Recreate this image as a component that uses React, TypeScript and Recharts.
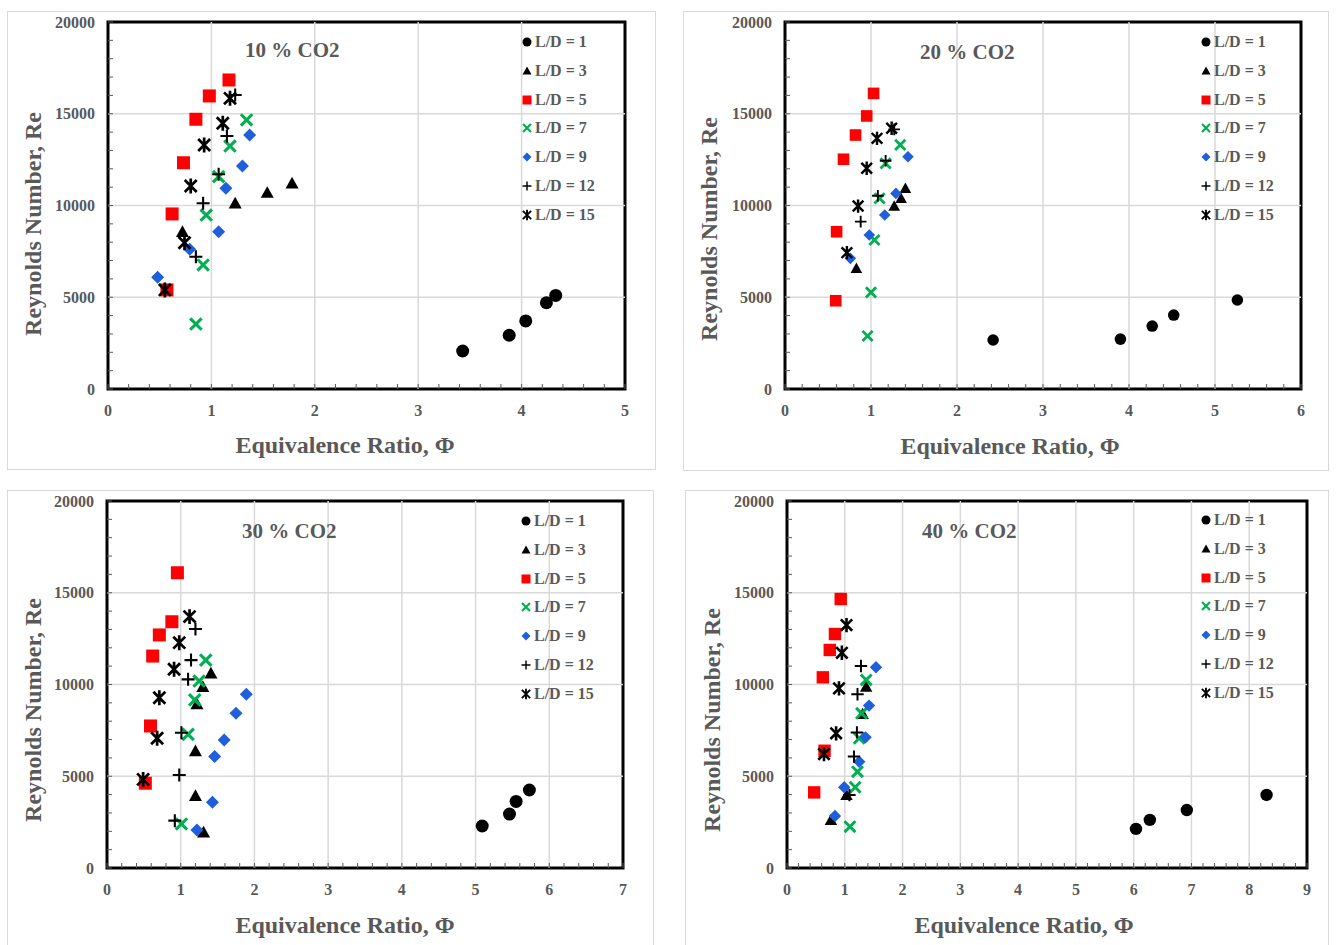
import React from 'react'
import { ScatterChart, Scatter, XAxis, YAxis, ReferenceLine, ReferenceArea } from 'recharts'

const FONT = '"Liberation Serif", "Times New Roman", serif'
const GREY = '#595959'
const GRID = '#d9d9d9'

type Pt = [number, number]

// Equivalence ratio vs Reynolds number, one list per L/D
const co2_10_ld1: Pt[] = [[3.43, 2070], [3.88, 2930], [4.04, 3710], [4.24, 4700], [4.33, 5100]]
const co2_10_ld3: Pt[] = [[0.72, 8570], [1.23, 10120], [1.54, 10700], [1.78, 11210]]
const co2_10_ld5: Pt[] = [[0.57, 5400], [0.62, 9540], [0.73, 12330], [0.85, 14700], [0.98, 15970], [1.17, 16840]]
const co2_10_ld7: Pt[] = [[0.85, 3540], [0.92, 6760], [0.95, 9480], [1.07, 11570], [1.18, 13240], [1.34, 14660]]
const co2_10_ld9: Pt[] = [[0.48, 6090], [0.79, 7610], [1.07, 8570], [1.14, 10940], [1.3, 12150], [1.37, 13840]]
const co2_10_ld12: Pt[] = [[0.85, 7210], [0.92, 10120], [1.07, 11700], [1.15, 13790], [1.23, 16020]]
const co2_10_ld15: Pt[] = [[0.55, 5400], [0.74, 7970], [0.8, 11060], [0.93, 13300], [1.11, 14480], [1.18, 15840]]

const co2_20_ld1: Pt[] = [[2.42, 2670], [3.9, 2720], [4.27, 3430], [4.52, 4030], [5.26, 4850]]
const co2_20_ld3: Pt[] = [[0.83, 6580], [1.27, 9970], [1.35, 10390], [1.4, 10940]]
const co2_20_ld5: Pt[] = [[0.59, 4810], [0.6, 8570], [0.68, 12520], [0.82, 13840], [0.95, 14880], [1.03, 16110]]
const co2_20_ld7: Pt[] = [[0.96, 2890], [1.0, 5270], [1.04, 8120], [1.1, 10390], [1.17, 12300], [1.34, 13300]]
const co2_20_ld9: Pt[] = [[0.76, 7120], [0.98, 8390], [1.16, 9480], [1.29, 10660], [1.43, 12660]]
const co2_20_ld12: Pt[] = [[0.88, 9120], [1.08, 10530], [1.17, 12440], [1.27, 14150]]
const co2_20_ld15: Pt[] = [[0.72, 7430], [0.85, 9970], [0.95, 12030], [1.07, 13660], [1.24, 14210]]

const co2_30_ld1: Pt[] = [[5.09, 2290], [5.46, 2940], [5.55, 3630], [5.73, 4250]]
const co2_30_ld3: Pt[] = [[1.31, 1950], [1.2, 3940], [1.2, 6380], [1.22, 8940], [1.3, 9880], [1.41, 10610]]
const co2_30_ld5: Pt[] = [[0.52, 4620], [0.59, 7740], [0.62, 11550], [0.71, 12700], [0.88, 13420], [0.955, 16090]]
const co2_30_ld7: Pt[] = [[1.01, 2400], [1.1, 7280], [1.19, 9160], [1.25, 10190], [1.34, 11330]]
const co2_30_ld9: Pt[] = [[1.22, 2070], [1.43, 3580], [1.46, 6070], [1.59, 6980], [1.75, 8430], [1.89, 9470]]
const co2_30_ld12: Pt[] = [[0.92, 2580], [0.98, 5070], [1.01, 7370], [1.1, 10280], [1.14, 11330], [1.2, 13020]]
const co2_30_ld15: Pt[] = [[0.49, 4830], [0.68, 7070], [0.71, 9280], [0.91, 10830], [0.98, 12280], [1.12, 13700]]

const co2_40_ld1: Pt[] = [[6.04, 2130], [6.28, 2620], [6.92, 3160], [8.3, 3980]]
const co2_40_ld3: Pt[] = [[0.76, 2620], [1.03, 3980], [1.31, 8390], [1.37, 9880]]
const co2_40_ld5: Pt[] = [[0.47, 4120], [0.65, 6390], [0.62, 10390], [0.74, 11880], [0.83, 12750], [0.93, 14660]]
const co2_40_ld7: Pt[] = [[1.09, 2250], [1.18, 4400], [1.22, 5250], [1.25, 7070], [1.29, 8430], [1.37, 10250]]
const co2_40_ld9: Pt[] = [[0.83, 2830], [0.99, 4400], [1.25, 5790], [1.36, 7120], [1.42, 8850], [1.54, 10940]]
const co2_40_ld12: Pt[] = [[1.08, 3980], [1.16, 6070], [1.21, 7390], [1.22, 9470], [1.28, 11010]]
const co2_40_ld15: Pt[] = [[0.64, 6210], [0.85, 7340], [0.9, 9790], [0.95, 11730], [1.03, 13240]]

const LD_LABELS = ['L/D = 1', 'L/D = 3', 'L/D = 5', 'L/D = 7', 'L/D = 9', 'L/D = 12', 'L/D = 15']
const MARKERS = ['circle', 'triangle', 'square', 'xmark', 'diamond', 'plus', 'star']
const COLORS = ['#000000', '#000000', '#ff0000', '#00b050', '#1f5fdc', '#000000', '#000000']

const Y_MAX = 20000
const Y_MAJOR = [5000, 10000, 15000]

// minor tick positions along an axis
const steps = (max: number, step: number) =>
  Array.from({ length: Math.round(max / step) + 1 }, (_, i) => +(i * step).toFixed(3))

function Marker({ kind, cx, cy, r, color }: { kind: string; cx: number; cy: number; r: number; color: string }) {
  switch (kind) {
    case 'circle':
      return <circle cx={cx} cy={cy} r={r} fill={color} />
    case 'triangle':
      return <polygon points={`${cx},${cy - r} ${cx + r},${cy + r * 0.8} ${cx - r},${cy + r * 0.8}`} fill={color} />
    case 'square':
      return <rect x={cx - r} y={cy - r} width={2 * r} height={2 * r} fill={color} />
    case 'xmark': {
      const a = r * 0.88
      return <path d={`M${cx - a},${cy - a}L${cx + a},${cy + a}M${cx - a},${cy + a}L${cx + a},${cy - a}`}
        stroke={color} strokeWidth={r * 0.48} fill="none" />
    }
    case 'diamond':
      return <polygon points={`${cx},${cy - r} ${cx + r},${cy} ${cx},${cy + r} ${cx - r},${cy}`} fill={color} />
    case 'plus':
      return <path d={`M${cx - r},${cy}H${cx + r}M${cx},${cy - r}V${cy + r}`} stroke={color} strokeWidth={r * 0.32} fill="none" />
    default: {
      const a = r * 0.92
      return <path d={`M${cx - a},${cy - a}L${cx + a},${cy + a}M${cx - a},${cy + a}L${cx + a},${cy - a}M${cx},${cy - r * 1.15}V${cy + r * 1.15}`}
        stroke={color} strokeWidth={r * 0.42} fill="none" />
    }
  }
}

const XTick = (p: any) => {
  const v = p.payload.value
  const major = Math.abs(v - Math.round(v)) < 1e-6
  return (
    <g>
      <line x1={p.x} x2={p.x} y1={p.y} y2={p.y - 5} stroke={GREY} />
      {major && (
        <text x={p.x} y={p.y + 27} textAnchor="middle" fill={GREY} fontFamily={FONT} fontWeight="bold" fontSize={16}>
          {Math.round(v)}
        </text>
      )}
    </g>
  )
}

const YTick = (p: any) => {
  const v = p.payload.value
  return (
    <g>
      <line x1={p.x} x2={p.x + 5} y1={p.y} y2={p.y} stroke={GREY} />
      {v % 5000 === 0 && (
        <text x={p.x - 13} y={p.y + 5.5} textAnchor="end" fill={GREY} fontFamily={FONT} fontWeight="bold" fontSize={16}>
          {v}
        </text>
      )}
    </g>
  )
}

interface PanelProps {
  left: number; top: number; w: number; h: number
  yW: number; right: number; xH: number; xMax: number
  r: number
  series: Pt[][]
  title: string; titleX: number; titleY: number
  legendX: number; legendY: number
  xTitle: [number, number]; yTitle: [number, number]
}

function Panel(p: PanelProps) {
  const textStyle = { fontFamily: FONT, fontWeight: 'bold' as const, color: GREY, position: 'absolute' as const, whiteSpace: 'nowrap' as const }
  const gridX = steps(p.xMax, 1).slice(1, -1)
  return (
    <>
      <div style={{ position: 'absolute', left: p.left, top: p.top, width: p.w, height: p.h, outline: `1px solid ${GRID}` }}>
        <ScatterChart width={p.w} height={p.h} margin={{ top: 10, right: p.right, bottom: 0, left: 0 }}>
          <XAxis type="number" dataKey="x" domain={[0, p.xMax]} ticks={steps(p.xMax, 0.2)} interval={0}
            tick={XTick} tickLine={false} axisLine={false} tickSize={0} tickMargin={0} height={p.xH} allowDataOverflow
            label={() => (
              <text x={p.xTitle[0]} y={p.xTitle[1]} textAnchor="middle" fill={GREY} fontFamily={FONT} fontWeight="bold" fontSize={24}>
                Equivalence Ratio, Φ
              </text>
            )} />
          <YAxis type="number" dataKey="y" domain={[0, Y_MAX]} ticks={steps(Y_MAX, 1000)} interval={0}
            tick={YTick} tickLine={false} axisLine={false} tickSize={0} tickMargin={0} width={p.yW} allowDataOverflow
            label={() => (
              <text x={p.yTitle[0]} y={p.yTitle[1]} transform={`rotate(-90 ${p.yTitle[0]} ${p.yTitle[1]})`}
                textAnchor="middle" dominantBaseline="central" fill={GREY} fontFamily={FONT} fontWeight="bold" fontSize={24}>
                Reynolds Number, Re
              </text>
            )} />
          {gridX.map(v => <ReferenceLine key={'gx' + v} x={v} stroke={GRID} strokeWidth={1.5} />)}
          {Y_MAJOR.map(v => <ReferenceLine key={'gy' + v} y={v} stroke={GRID} strokeWidth={1.5} />)}
          <ReferenceArea x1={0} x2={p.xMax} y1={0} y2={Y_MAX} fill="none" stroke="#000" strokeWidth={3} />
          {p.series.map((s, i) => (
            <Scatter key={LD_LABELS[i]} name={LD_LABELS[i]} data={s.map(([x, y]) => ({ x, y }))} isAnimationActive={false}
              shape={(sp: any) => <Marker kind={MARKERS[i]} cx={sp.cx} cy={sp.cy} r={p.r} color={COLORS[i]} />} />
          ))}
        </ScatterChart>
      </div>
      <div style={{ ...textStyle, left: p.titleX, top: p.titleY - 11, fontSize: 21, lineHeight: '22px' }}>{p.title}</div>
      {LD_LABELS.map((lab, i) => (
        <div key={lab} style={{ ...textStyle, left: p.legendX - 6, top: p.legendY + i * 28.8 - 8, height: 16, display: 'flex', alignItems: 'center' }}>
          <svg width={12} height={12} style={{ flex: 'none' }}>
            <Marker kind={MARKERS[i]} cx={6} cy={6} r={4.5} color={COLORS[i]} />
          </svg>
          <span style={{ marginLeft: 2, fontSize: 16, lineHeight: '16px' }}>{lab}</span>
        </div>
      ))}
    </>
  )
}

export default function App() {
  return (
    <div style={{ position: 'absolute', left: 0, top: 0, width: 1336, height: 945, overflow: 'hidden', background: '#fff' }}>
      <Panel left={8} top={12} w={647} h={457} yW={100} right={30} xH={80} xMax={5} r={6.5}
        series={[co2_10_ld1, co2_10_ld3, co2_10_ld5, co2_10_ld7, co2_10_ld9, co2_10_ld12, co2_10_ld15]}
        title="10 % CO2" titleX={245} titleY={50} legendX={527} legendY={42}
        xTitle={[337, 441]} yTitle={[25, 212]} />
      <Panel left={684} top={12} w={644} h={458} yW={101} right={27} xH={81} xMax={6} r={5.8}
        series={[co2_20_ld1, co2_20_ld3, co2_20_ld5, co2_20_ld7, co2_20_ld9, co2_20_ld12, co2_20_ld15]}
        title="20 % CO2" titleX={920} titleY={52} legendX={1206} legendY={42}
        xTitle={[326, 442]} yTitle={[25, 217]} />
      <Panel left={8} top={491} w={645} h={457} yW={99} right={30} xH={80} xMax={7} r={6.5}
        series={[co2_30_ld1, co2_30_ld3, co2_30_ld5, co2_30_ld7, co2_30_ld9, co2_30_ld12, co2_30_ld15]}
        title="30 % CO2" titleX={242} titleY={531} legendX={526} legendY={521}
        xTitle={[337, 442]} yTitle={[25, 219]} />
      <Panel left={686} top={491} w={642} h={457} yW={101} right={21} xH={80} xMax={9} r={6.2}
        series={[co2_40_ld1, co2_40_ld3, co2_40_ld5, co2_40_ld7, co2_40_ld9, co2_40_ld12, co2_40_ld15]}
        title="40 % CO2" titleX={922} titleY={531} legendX={1206} legendY={520}
        xTitle={[338, 442]} yTitle={[26, 229]} />
    </div>
  )
}
